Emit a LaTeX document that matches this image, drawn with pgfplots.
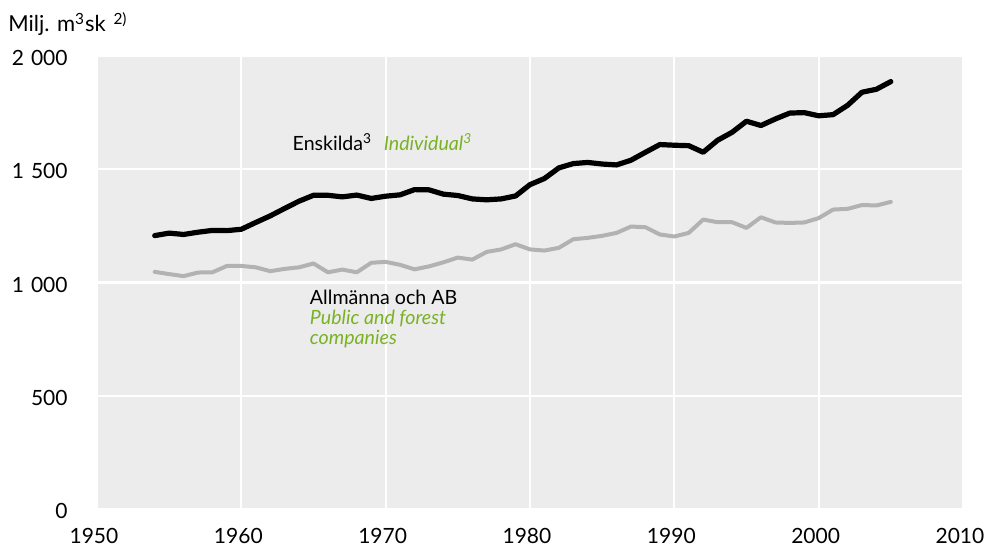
\documentclass[border=0pt]{standalone}
\usepackage{pgfplots}
\pgfplotsset{compat=1.18}
\usepackage{fontspec}
\setmainfont{Lato}
\definecolor{bgg}{RGB}{236,236,236}
\definecolor{lineg}{RGB}{178,178,178}
\definecolor{grn}{RGB}{122,178,38}
\begin{document}
\begin{tikzpicture}
\begin{axis}[
  name=ax,
  scale only axis,
  width=433pt, height=226.5pt,
  xmin=1950, xmax=2010, ymin=0, ymax=2000,
  xtick={1950,1960,...,2010},
  ytick={0,500,1000,1500,2000},
  axis background/.style={fill=bgg},
  axis line style={draw=none},
  major tick length=0pt,
  grid=major,
  major grid style={white, line width=1.15pt},
  clip=false,
  /pgf/number format/assume math mode=true,
  yticklabel style={anchor=east, inner sep=0pt, xshift=-14.5pt, yshift=-1pt, font=\fontsize{10.5}{13}\selectfont, /pgf/number format/1000 sep={\,\,}},
  xticklabel style={anchor=north, inner sep=0pt, yshift=-9.5pt, xshift=-1.5pt, font=\fontsize{10.5}{13}\selectfont, /pgf/number format/1000 sep={}},
]
\addplot[black, line width=2.6pt, line join=round, line cap=round] coordinates {
(1954,1207) (1955,1218) (1956,1212) (1957,1222) (1958,1230) (1959,1229) (1960,1235)
(1961,1265) (1962,1294) (1963,1327) (1964,1359) (1965,1385) (1966,1385) (1967,1378)
(1968,1386) (1969,1371) (1970,1381) (1971,1387) (1972,1410) (1973,1409) (1974,1390)
(1975,1384) (1976,1369) (1977,1365) (1978,1369) (1979,1382) (1980,1432) (1981,1459)
(1982,1506) (1983,1525) (1984,1530) (1985,1523) (1986,1519) (1987,1540) (1988,1575)
(1989,1609) (1990,1606) (1991,1604) (1992,1575) (1993,1628) (1994,1663) (1995,1712)
(1996,1693) (1997,1722) (1998,1748) (1999,1750) (2000,1736) (2001,1741) (2002,1782)
(2003,1840) (2004,1853) (2005,1887)
};
\addplot[lineg, line width=2pt, line join=round, line cap=round] coordinates {
(1954,1047) (1955,1037) (1956,1028) (1957,1044) (1958,1045) (1959,1073) (1960,1073)
(1961,1067) (1962,1050) (1963,1060) (1964,1067) (1965,1084) (1966,1045) (1967,1057)
(1968,1045) (1969,1087) (1970,1091) (1971,1078) (1972,1058) (1973,1071) (1974,1089)
(1975,1110) (1976,1101) (1977,1135) (1978,1146) (1979,1169) (1980,1146) (1981,1141)
(1982,1153) (1983,1191) (1984,1197) (1985,1206) (1986,1219) (1987,1247) (1988,1244)
(1989,1212) (1990,1203) (1991,1219) (1992,1278) (1993,1266) (1994,1266) (1995,1241)
(1996,1288) (1997,1265) (1998,1263) (1999,1265) (2000,1284) (2001,1322) (2002,1325)
(2003,1342) (2004,1340) (2005,1356)
};
\node[anchor=base west, inner sep=0pt, font=\fontsize{9.8}{11}\selectfont] at (axis cs:1963.53,1581) {Enskilda\textsuperscript{3}\hspace{0.6em}\textcolor{grn}{\itshape Individual\textsuperscript{3}}};
\node[anchor=base west, inner sep=0pt, font=\fontsize{9.8}{11}\selectfont] at (axis cs:1964.73,903) {Allmänna och AB};
\node[anchor=base west, inner sep=0pt, font=\fontsize{9.8}{11}\selectfont, text=grn] at (axis cs:1964.73,816) {\itshape Public and forest};
\node[anchor=base west, inner sep=0pt, font=\fontsize{9.8}{11}\selectfont, text=grn] at (axis cs:1964.73,728) {\itshape companies};
\node[anchor=base west, inner sep=0pt, font=\fontsize{11}{13}\selectfont] at ([xshift=-44.5pt, yshift=12pt]rel axis cs:0,1) {Milj. m\textsuperscript{3}sk\hspace{0.35em}\textsuperscript{2)}};
\end{axis}
\pgfresetboundingbox
\path (ax.south west) ++(-48.5pt,-20.5pt) rectangle ++(493.5pt,275pt);
\end{tikzpicture}
\end{document}
